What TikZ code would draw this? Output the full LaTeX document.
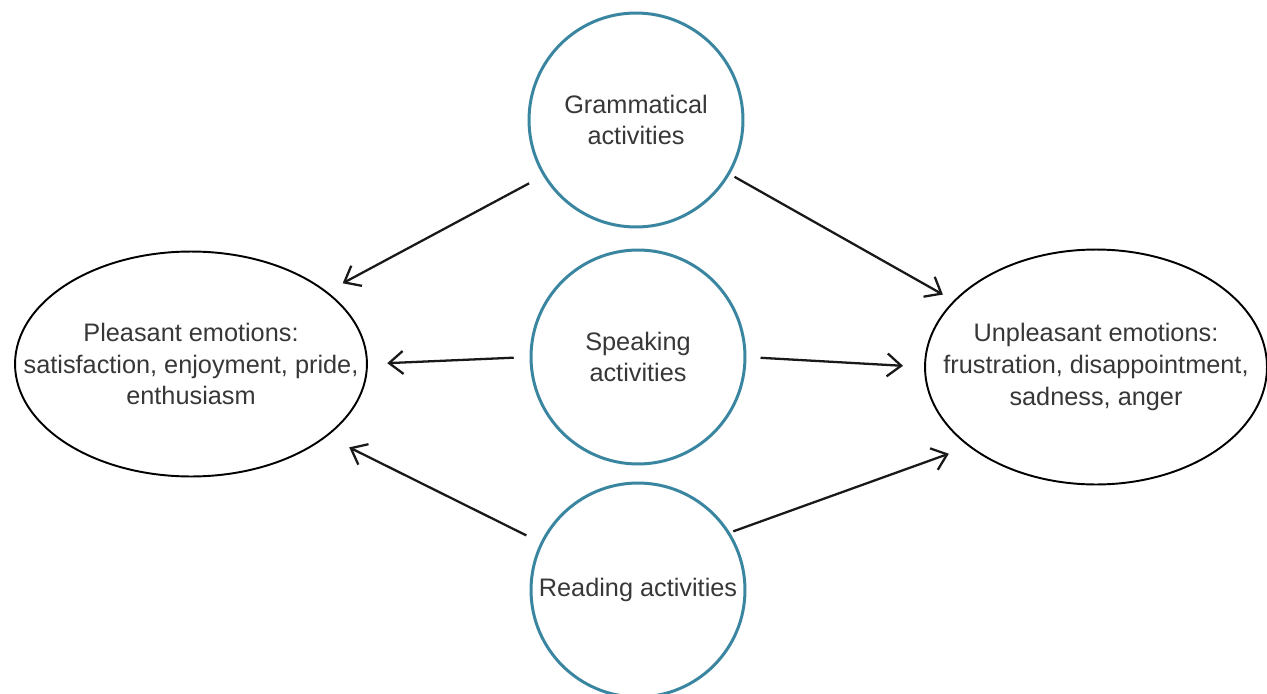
\documentclass[tikz,border=0pt]{standalone}
\usepackage{fontspec}
\setmainfont{Liberation Sans}
\usepackage{xcolor}
\usetikzlibrary{shapes.geometric}
\usetikzlibrary{arrows.meta}
\definecolor{ringblue}{RGB}{58,134,160}
\definecolor{txtgray}{RGB}{55,55,55}
\tikzset{>={Straight Barb[length=8pt,width=13pt,line width=1.3pt]}}

\begin{document}
\begin{tikzpicture}[
     x={(0.02cm,0cm)},y={(0cm,-0.02cm)},   % pixel grid, y downwards
     activity/.style={circle,draw=ringblue,line width=1.7pt,minimum size=4.28cm,
       align=center,text=txtgray,font=\fontsize{14.4}{18}\selectfont},
     emotion/.style={ellipse,draw=black,line width=1.1pt,inner sep=0pt},
     emotext/.style={align=center,text=txtgray,font=\fontsize{14.4}{18}\selectfont},
     link/.style={->,line width=1.3pt,black!90}
  ]
  \useasboundingbox (0,0) rectangle (1267,693);
  % activities
  \node[activity] (gram)  at (636,120) {Grammatical\\activities};
  \node[activity] (speak) at (638,357) {Speaking\\activities};
  \node[activity] (read)  at (638,590) {Reading activities};
  % emotions (text as centre label, so the ellipse keeps its size)
  \node[emotion,minimum width=7.04cm,minimum height=4.5cm,
    label={[emotext]center:Pleasant emotions:\\satisfaction, enjoyment, pride,\\enthusiasm}]
    (pleas) at (191,364) {};
  \node[emotion,minimum width=6.84cm,minimum height=4.7cm,
    label={[emotext]center:Unpleasant emotions:\\frustration, disappointment,\\sadness, anger}]
    (unpl) at (1096,367) {};
  % arrows
  \draw[link,shorten <=9pt,shorten >=10pt] (gram.211) -- (pleas.28);
  \draw[link,shorten <=3pt,shorten >=7pt] (gram.330) -- (unpl.155);
  \draw[link,shorten <=9pt,shorten >=11pt] (speak.180) -- (pleas.0);
  \draw[link,shorten <=8pt,shorten >=12pt] (speak.0) -- (unpl.180);
  \draw[link,shorten <=9pt,shorten >=14pt] (read.154) -- (pleas.332);
  \draw[link,shorten <=2pt,shorten >=12pt] (read.32) -- (unpl.212);
\end{tikzpicture}
\end{document}
